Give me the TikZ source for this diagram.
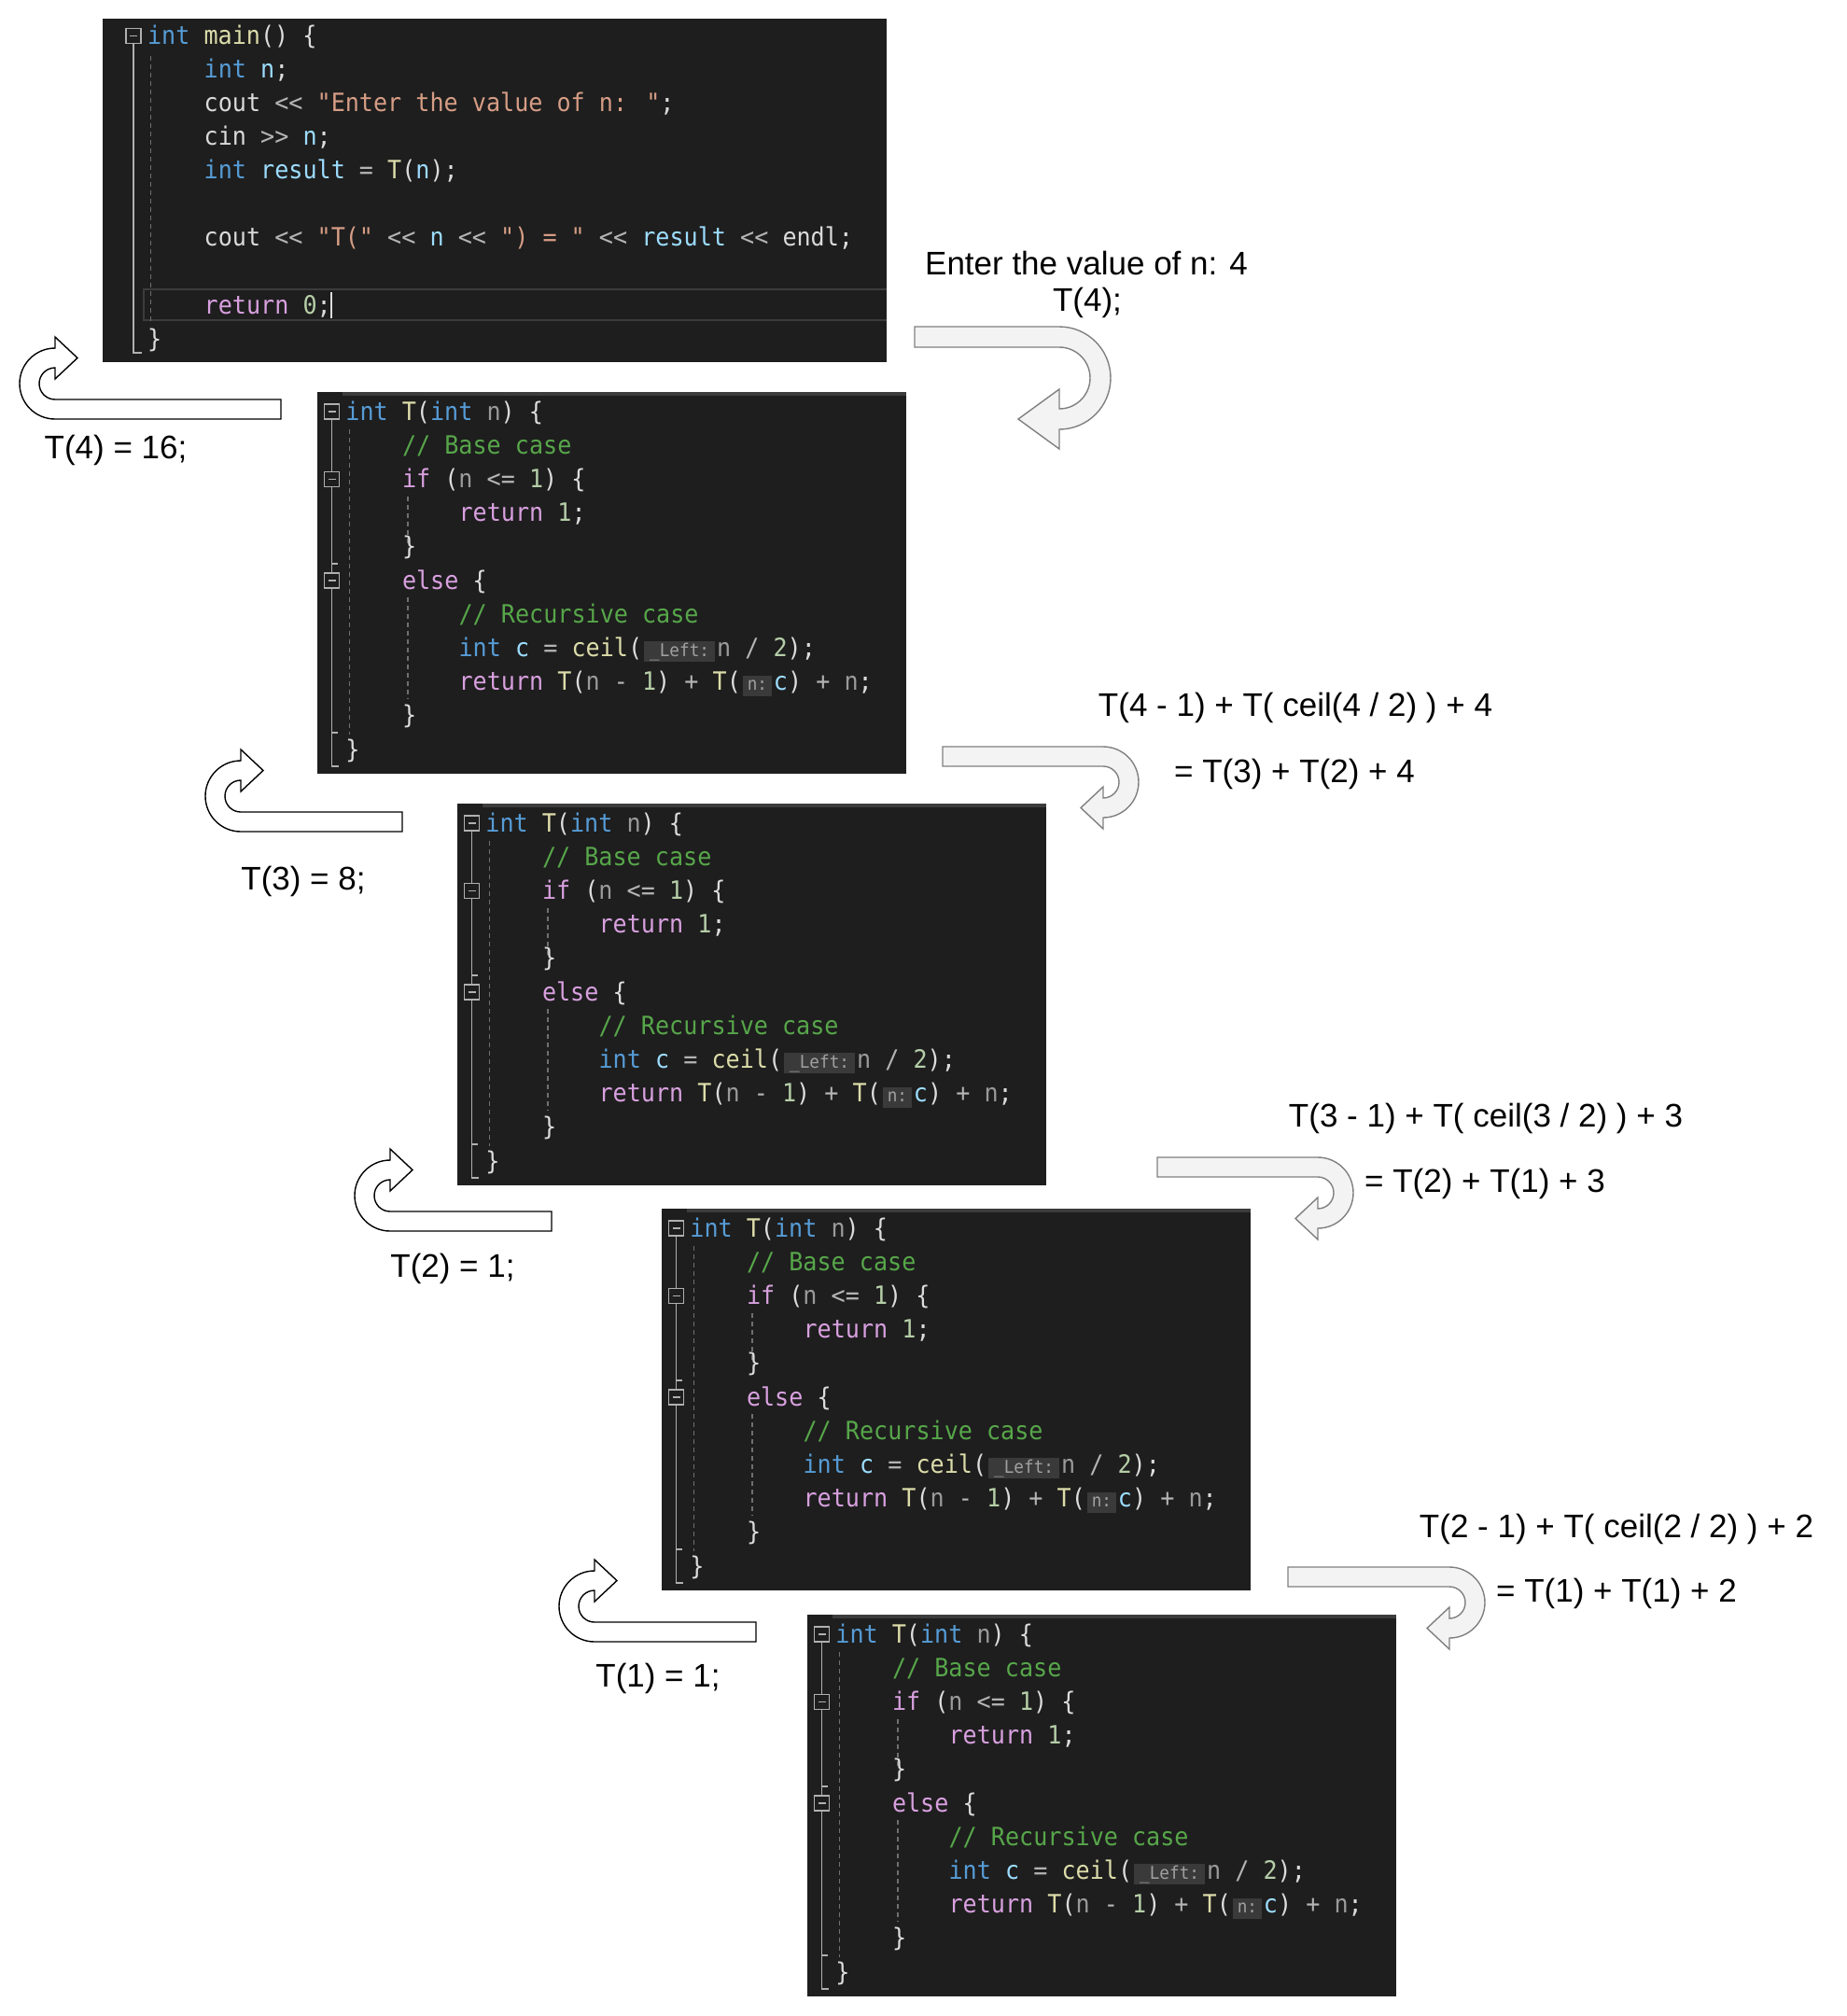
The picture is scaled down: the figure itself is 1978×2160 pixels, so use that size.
\documentclass[tikz,border=0pt]{standalone}
\usepackage{fontspec}
\setmainfont{Liberation Sans}
\newfontfamily\codefont{DejaVu Sans Mono}[FakeStretch=0.93,Ligatures=TeXOff]
\definecolor{codebg}{HTML}{1E1E1E}
\definecolor{tabstrip}{HTML}{3C3C3C}
\definecolor{codewhite}{HTML}{DCDCDC}
\definecolor{kw}{HTML}{569CD6}
\definecolor{fn}{HTML}{DCDCAA}
\definecolor{ctl}{HTML}{D8A0DF}
\definecolor{cmt}{HTML}{57A64A}
\definecolor{str}{HTML}{D69D85}
\definecolor{num}{HTML}{B5CEA8}
\definecolor{var}{HTML}{9CDCFE}
\definecolor{prm}{HTML}{9A9A9A}
\definecolor{op}{HTML}{B4B4B4}
\definecolor{io}{HTML}{DADADA}
\definecolor{hintbg}{HTML}{3A3A3A}
\definecolor{hintfg}{HTML}{A0A0A0}
\definecolor{foldgray}{HTML}{B0B0B0}
\definecolor{guidegray}{HTML}{707070}
\definecolor{arrowgray}{HTML}{808080}
\definecolor{arrowfill}{HTML}{F3F3F3}

\tikzset{
  code/.style={anchor=base west,inner sep=0pt,text=codewhite,font=\fontsize{13.5pt}{13.5pt}\codefont},
  calltext/.style={inner sep=0pt,font=\fontsize{17.5pt}{17.5pt}\selectfont},
  fold/.style={draw=foldgray,line width=0.75pt},
  foldbox/.style={draw=foldgray,line width=0.75pt,fill=codebg},
  guide/.style={draw=guidegray,line width=0.6pt,dash pattern=on 2.5pt off 2pt},
  retarrow/.style={draw=black,fill=white,line width=0.7pt},
  callarrow/.style={draw=arrowgray,fill=arrowfill,line width=0.7pt}
}

% inlay hint of the editor
\newcommand{\codehint}[2]{\kern1pt{\setlength{\fboxsep}{0pt}\colorbox{hintbg}{\makebox[#2]{\rule[-3pt]{0pt}{11pt}\fontsize{9.5pt}{9.5pt}\codefont\color{hintfg}#1}}}\kern1pt}

% one window of T(int n), drawn at the scope origin
\newcommand{\recbox}[1]{%
  \fill[codebg] (0,0) rectangle (631,409);
  \fill[tabstrip] (27,0) rectangle (631,4);
  \draw[foldbox] (7.5,13) rectangle (23.5,29);
  \draw[fold] (11.5,21) -- (19.5,21);
  \draw[foldbox] (7.5,85.5) rectangle (23.5,101.5);
  \draw[fold] (11.5,93.5) -- (19.5,93.5);
  \draw[foldbox] (7.5,194) rectangle (23.5,210);
  \draw[fold] (11.5,202) -- (19.5,202);
  \draw[fold] (15.5,29) -- (15.5,85.5);
  \draw[fold] (15.5,101.5) -- (15.5,194);
  \draw[fold] (15.5,184) -- (22,184);
  \draw[fold] (15.5,210) -- (15.5,401) -- (23,401);
  \draw[fold] (15.5,365) -- (22,365);
  \draw[guide] (34.5,40) -- (34.5,367);
  \draw[guide] (97,112) -- (97,166);
  \draw[guide] (97,220) -- (97,329);
  \node[code] (#1-l0) at (30,30) {\textcolor{kw}{int} \textcolor{fn}{T}(\textcolor{kw}{int} \textcolor{prm}{n}) \{};
  \node[code] (#1-l1) at (90.6,66.2) {\textcolor{cmt}{// Base case}};
  \node[code] (#1-l2) at (90.6,102.4) {\textcolor{ctl}{if} (\textcolor{prm}{n} \textcolor{op}{<=} \textcolor{num}{1}) \{};
  \node[code] (#1-l3) at (151.2,138.6) {\textcolor{ctl}{return} \textcolor{num}{1};};
  \node[code] (#1-l4) at (90.6,174.8) {\}};
  \node[code] (#1-l5) at (90.6,211) {\textcolor{ctl}{else} \{};
  \node[code] (#1-l6) at (151.2,247.2) {\textcolor{cmt}{// Recursive case}};
  \node[code] (#1-l7) at (151.2,283.4) {\textcolor{kw}{int} \textcolor{var}{c} \textcolor{op}{=} \textcolor{fn}{ceil}(\codehint{\_Left:}{38pt}\textcolor{prm}{n} \textcolor{op}{/} \textcolor{num}{2});};
  \node[code] (#1-l8) at (151.2,319.6) {\textcolor{ctl}{return} \textcolor{fn}{T}(\textcolor{prm}{n} \textcolor{op}{-} \textcolor{num}{1}) \textcolor{op}{+} \textcolor{fn}{T}(\codehint{n:}{15.5pt}\textcolor{var}{c}) \textcolor{op}{+} \textcolor{prm}{n};};
  \node[code] (#1-l9) at (90.6,355.8) {\}};
  \node[code] (#1-l10) at (30,392) {\}};
}

\begin{document}
\begin{tikzpicture}[x=0.5pt,y=-0.5pt]
  \useasboundingbox (0,0) rectangle (1978,2160);
  % main()
  \begin{scope}[shift={(110,20)}]
   \fill[codebg] (0,0) rectangle (840,368);
   \draw[tabstrip,line width=1.2pt] (840,290) -- (44,290) -- (44,323) -- (840,323);
   \draw[foldbox] (25,10.3) rectangle (41,26.3);
   \draw[fold] (29,18.3) -- (37,18.3);
   \draw[fold] (33,26.3) -- (33,358) -- (42,358);
   \draw[guide] (51.5,40) -- (51.5,327);
   \draw[codewhite,line width=0.75pt] (245,293) -- (245,321);
   \node[code] (main-l0) at (47.7,27.3) {\textcolor{kw}{int} \textcolor{fn}{main}() \{};
   \node[code] (main-l1) at (108.3,63.4) {\textcolor{kw}{int} \textcolor{var}{n};};
   \node[code] (main-l2) at (108.3,99.5) {\textcolor{io}{cout} \textcolor{op}{<<} \textcolor{str}{"Enter the value of n: "};};
   \node[code] (main-l3) at (108.3,135.6) {\textcolor{io}{cin} \textcolor{op}{>>} \textcolor{var}{n};};
   \node[code] (main-l4) at (108.3,171.7) {\textcolor{kw}{int} \textcolor{var}{result} \textcolor{op}{=} \textcolor{fn}{T}(\textcolor{var}{n});};
   \node[code] (main-l6) at (108.3,243.9) {\textcolor{io}{cout} \textcolor{op}{<<} \textcolor{str}{"T("} \textcolor{op}{<<} \textcolor{var}{n} \textcolor{op}{<<} \textcolor{str}{") = "} \textcolor{op}{<<} \textcolor{var}{result} \textcolor{op}{<<} \textcolor{io}{endl};};
   \node[code] (main-l8) at (108.3,316.1) {\textcolor{ctl}{return} \textcolor{num}{0};};
   \node[code] (main-l9) at (47.7,352.2) {\}};
  \end{scope}
  % the four calls of T
  \begin{scope}[shift={(340,420)}]
   \recbox{t4}
  \end{scope}
  \begin{scope}[shift={(490,861)}]
   \recbox{t3}
  \end{scope}
  \begin{scope}[shift={(709,1295)}]
   \recbox{t2}
  \end{scope}
  \begin{scope}[shift={(865,1730)}]
   \recbox{t1}
  \end{scope}
  % going down
  \begin{scope}[shift={(1135,405)},rotate=180]
   \draw[callarrow] (155,33) -- (0,33) arc[start angle=270,end angle=90,radius=16.5pt] -- (0,-12) -- (44,-44) -- (0,-76) -- (0,-55) arc[start angle=90,end angle=270,radius=27.5pt] -- (155,55) -- cycle;
  \end{scope}
  \begin{scope}[shift={(1182,838)},rotate=180]
   \draw[callarrow] (172,17) -- (0,17) arc[start angle=270,end angle=90,radius=8.5pt] -- (0,-5) -- (24,-27.5) -- (0,-50) -- (0,-38) arc[start angle=90,end angle=270,radius=19pt] -- (172,38) -- cycle;
  \end{scope}
  \begin{scope}[shift={(1412,1278)},rotate=180]
   \draw[callarrow] (172,17) -- (0,17) arc[start angle=270,end angle=90,radius=8.5pt] -- (0,-5) -- (24,-27.5) -- (0,-50) -- (0,-38) arc[start angle=90,end angle=270,radius=19pt] -- (172,38) -- cycle;
  \end{scope}
  \begin{scope}[shift={(1553,1717)},rotate=180]
   \draw[callarrow] (173,17) -- (0,17) arc[start angle=270,end angle=90,radius=8.5pt] -- (0,-5) -- (24,-27.5) -- (0,-50) -- (0,-38) arc[start angle=90,end angle=270,radius=19pt] -- (173,38) -- cycle;
  \end{scope}
  % coming back
  \begin{scope}[shift={(59,411)}]
   \draw[retarrow] (242,17) -- (0,17) arc[start angle=270,end angle=90,radius=8.5pt] -- (0,-5) -- (24,-27.5) -- (0,-50) -- (0,-38) arc[start angle=90,end angle=270,radius=19pt] -- (242,38) -- cycle;
  \end{scope}
  \begin{scope}[shift={(258,853)}]
   \draw[retarrow] (173,17) -- (0,17) arc[start angle=270,end angle=90,radius=8.5pt] -- (0,-5) -- (24,-27.5) -- (0,-50) -- (0,-38) arc[start angle=90,end angle=270,radius=19pt] -- (173,38) -- cycle;
  \end{scope}
  \begin{scope}[shift={(418,1281)}]
   \draw[retarrow] (173,17) -- (0,17) arc[start angle=270,end angle=90,radius=8.5pt] -- (0,-5) -- (24,-27.5) -- (0,-50) -- (0,-38) arc[start angle=90,end angle=270,radius=19pt] -- (173,38) -- cycle;
  \end{scope}
  \begin{scope}[shift={(637,1721)}]
   \draw[retarrow] (173,17) -- (0,17) arc[start angle=270,end angle=90,radius=8.5pt] -- (0,-5) -- (24,-27.5) -- (0,-50) -- (0,-38) arc[start angle=90,end angle=270,radius=19pt] -- (173,38) -- cycle;
  \end{scope}
  % what is printed and returned
  \node[calltext] (enter) at (1164,282) {Enter the value of n: 4};
  \node[calltext] (call4) at (1165,324) {T(4);};
  \node[calltext] (exp4) at (1388,758) {T(4 - 1) + T( ceil(4 / 2) ) + 4};
  \node[calltext] (sum4) at (1387,829) {= T(3) + T(2) + 4};
  \node[calltext] (exp3) at (1592,1198) {T(3 - 1) + T( ceil(3 / 2) ) + 3};
  \node[calltext] (sum3) at (1591,1268) {= T(2) + T(1) + 3};
  \node[calltext] (exp2) at (1732,1638) {T(2 - 1) + T( ceil(2 / 2) ) + 2};
  \node[calltext] (sum2) at (1732,1707) {= T(1) + T(1) + 2};
  \node[calltext] (ret4) at (124,482) {T(4) = 16;};
  \node[calltext] (ret3) at (325,944) {T(3) = 8;};
  \node[calltext] (ret2) at (485,1359) {T(2) = 1;};
  \node[calltext] (ret1) at (705,1798) {T(1) = 1;};
\end{tikzpicture}
\end{document}
